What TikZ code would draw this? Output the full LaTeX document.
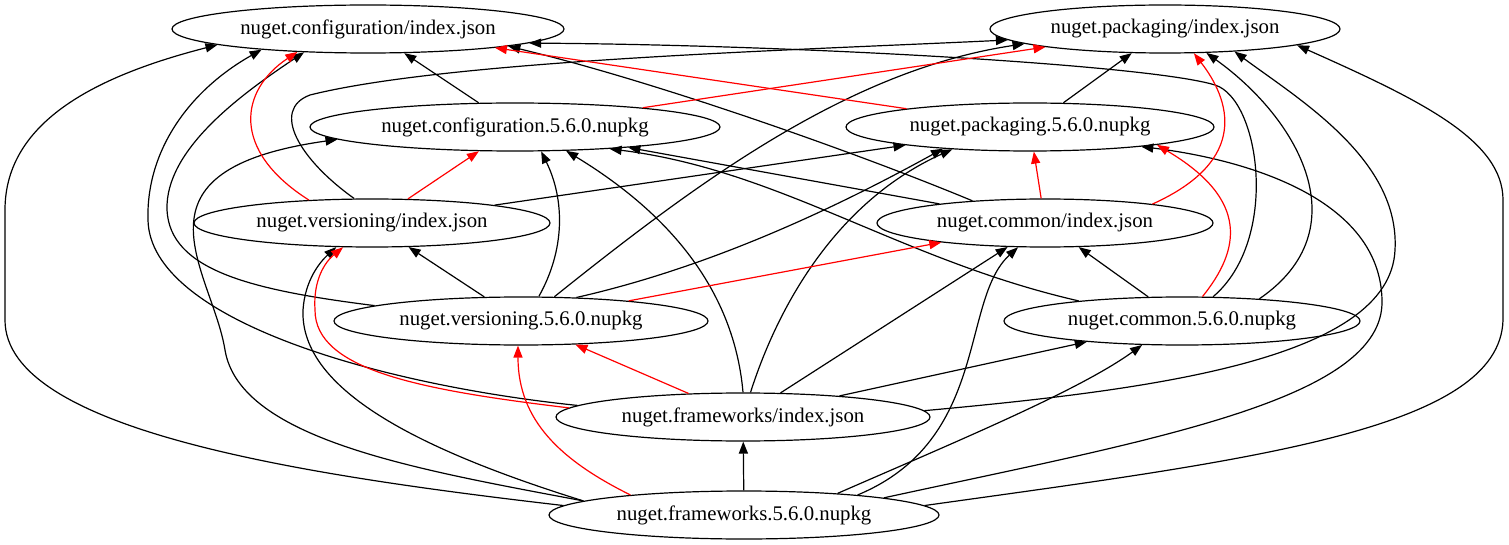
\documentclass[tikz,border=0pt]{standalone}
\usepackage{fontspec}
\setmainfont{Liberation Serif}
\usetikzlibrary{shapes.geometric,arrows.meta}

\tikzstyle{pkg} = [ellipse, draw=black, line width=0.9pt, minimum height=36pt, inner sep=0pt, font=\fontsize{15.6}{18}\selectfont]
\tikzstyle{dep} = [line width=0.9pt, -{Triangle[length=9pt,width=6.8pt]}]
\tikzstyle{rdep} = [dep, red]

\begin{document}
\begin{tikzpicture}[x=0.75pt,y=-0.75pt]
\useasboundingbox (0,0) rectangle (1509,545);

% index files
\node (cfgidx) [pkg, minimum width=294pt] at (368,29) {nuget.configuration/index.json};
\node (pkgidx) [pkg, minimum width=262.5pt] at (1165,29) {nuget.packaging/index.json};
\node (veridx) [pkg, minimum width=267pt] at (372,223) {nuget.versioning/index.json};
\node (comidx) [pkg, minimum width=252pt] at (1045,223) {nuget.common/index.json};
\node (fwkidx) [pkg, minimum width=280.5pt] at (743,417) {nuget.frameworks/index.json};

% packages
\node (cfgpkg) [pkg, minimum width=307.5pt] at (515,127) {nuget.configuration.5.6.0.nupkg};
\node (pkgpkg) [pkg, minimum width=276pt] at (1030,127) {nuget.packaging.5.6.0.nupkg};
\node (verpkg) [pkg, minimum width=280.5pt] at (521,321) {nuget.versioning.5.6.0.nupkg};
\node (compkg) [pkg, minimum width=267pt] at (1182,321) {nuget.common.5.6.0.nupkg};
\node (fwkpkg) [pkg, minimum width=292.5pt] at (744,515) {nuget.frameworks.5.6.0.nupkg};

\draw [dep] (fwkpkg) -- (fwkidx);
\draw [dep] (fwkpkg.177) .. controls (300,475) and (5,430) .. (5,320) -- (5,210) .. controls (5,120) and (100,75) .. (cfgidx.186.4);
\draw [dep] (fwkidx.176.4) .. controls (380,385) and (150,320) .. (148,220) .. controls (146,150) and (190,90) .. (cfgidx.191);
\draw [dep] (fwkpkg.175) .. controls (420,470) and (240,440) .. (225,350) .. controls (212,270) and (120,170) .. (cfgpkg.184.9);
\draw [dep] (fwkpkg.175.5) .. controls (420,450) and (300,390) .. (303,310) .. controls (305,280) and (320,262) .. (veridx.214.8);
\draw [dep] (verpkg.174.8) .. controls (250,290) and (170,270) .. (167,210) .. controls (165,150) and (240,95) .. (cfgidx.200.8);
\draw [dep] (cfgpkg) -- (cfgidx);
\draw [dep] (veridx.126.4) .. controls (300,160) and (270,110) .. (310,95) .. controls (450,60) and (800,50) .. (pkgidx.184);
\draw [dep] (verpkg) -- (veridx);
\draw [dep] (verpkg.54.6) .. controls (565,250) and (565,200) .. (cfgpkg.-43.6);
\draw [dep] (verpkg.36.4) .. controls (700,180) and (850,70) .. (pkgidx.186.3);
\draw [dep] (verpkg.23.5) .. controls (720,265) and (850,200) .. (pkgpkg.194.5);
\draw [dep] (veridx) -- (pkgpkg);
\draw [dep] (fwkidx.90) .. controls (735,300) and (680,220) .. (cfgpkg.-25.9);
\draw [dep] (fwkidx.73.7) .. controls (780,300) and (840,200) .. (pkgpkg.196.6);
\draw [dep] (fwkidx) -- (comidx);
\draw [dep] (fwkidx) -- (compkg);
\draw [dep] (fwkidx.2.9) .. controls (1150,390) and (1390,360) .. (1395,250) .. controls (1400,160) and (1300,100) .. (pkgidx.-18.9);
\draw [dep] (fwkpkg.10.9) .. controls (990,440) and (960,300) .. (comidx.222.4);
\draw [dep] (fwkpkg.13.1) .. controls (960,440) and (1080,390) .. (compkg.211);
\draw [dep] (fwkpkg.7.4) .. controls (1150,440) and (1385,400) .. (1382,300) .. controls (1380,200) and (1250,160) .. (pkgpkg.-10.9);
\draw [dep] (fwkpkg.3.2) .. controls (1250,460) and (1500,430) .. (1503,320) -- (1503,200) .. controls (1503,140) and (1420,100) .. (pkgidx.-7.7);
\draw [dep] (compkg.38.3) .. controls (1280,240) and (1260,99) .. (1215,85) .. controls (1150,65) and (800,45) .. (cfgidx.-5);
\draw [dep] (compkg.16.2) .. controls (1360,230) and (1300,120) .. (pkgidx.-30.3);
\draw [dep] (compkg) -- (comidx);
\draw [dep] (compkg.169.8) .. controls (900,260) and (780,170) .. (cfgpkg.-13.5);
\draw [dep] (comidx) -- (cfgpkg);
\draw [dep] (comidx.163.2) .. controls (850,150) and (650,80) .. (cfgidx.-7);
\draw [dep] (pkgpkg) -- (pkgidx);

% red edges
\draw [rdep] (fwkpkg.170.3) .. controls (560,460) and (518,420) .. (verpkg.-97.1);
\draw [rdep] (fwkidx) -- (verpkg);
\draw [rdep] (fwkidx.177.4) .. controls (420,390) and (315,370) .. (315,310) .. controls (313,280) and (325,262) .. (veridx.220.2);
\draw [rdep] (veridx.160.1) .. controls (230,150) and (240,90) .. (cfgidx.198.3);
\draw [rdep] (veridx) -- (cfgpkg);
\draw [rdep] (verpkg) -- (comidx);
\draw [rdep] (comidx) -- (pkgpkg);
\draw [rdep] (comidx.10.6) .. controls (1250,160) and (1230,100) .. (pkgidx.-40.2);
\draw [rdep] (compkg.50) .. controls (1240,250) and (1250,200) .. (pkgpkg.-8);
\draw [rdep] (pkgpkg) -- (cfgidx);
\draw [rdep] (cfgpkg) -- (pkgidx);
\end{tikzpicture}
\end{document}
